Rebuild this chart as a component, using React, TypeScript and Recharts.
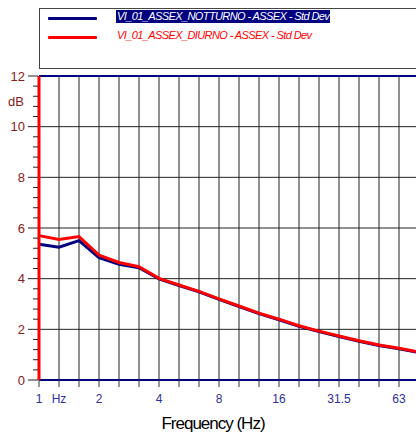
import React from "react";
import {
  LineChart,
  Line,
  XAxis,
  YAxis,
  CartesianGrid,
  ReferenceLine,
} from "recharts";

// third-octave bands, Hz
const bands = ["1", "1.25", "1.6", "2", "2.5", "3.15", "4", "5", "6.3", "8", "10", "12.5", "16", "20", "25", "31.5", "40", "50", "63", "80"];

// standard deviation per band, dB
const notturno = [5.36, 5.24, 5.5, 4.83, 4.57, 4.43, 3.99, 3.73, 3.48, 3.18, 2.9, 2.62, 2.38, 2.12, 1.91, 1.72, 1.53, 1.36, 1.23, 1.08];
const diurno = [5.7, 5.55, 5.66, 4.93, 4.64, 4.47, 4.01, 3.75, 3.5, 3.2, 2.92, 2.64, 2.4, 2.14, 1.93, 1.74, 1.55, 1.38, 1.25, 1.1];

const xLabels: Record<string, string> = {
  "1": "1",
  "1.25": "Hz",
  "2": "2",
  "4": "4",
  "8": "8",
  "16": "16",
  "31.5": "31.5",
  "63": "63",
};

const majorY = [0, 2, 4, 6, 8, 10, 12];
const allYTicks = Array.from({ length: 31 }, (_, i) => Math.round(i * 4) / 10);

const NAVY = "#000080";
const RED = "#ff0000";
const AXIS_RED = "#8b2020";
const TICK_BLUE = "#2e2e9e";

const data = bands.map((f, i) => ({ f, notturno: notturno[i], diurno: diurno[i] }));

// y ticks: long mark + label on the even values, short mark in between
const YTick = (props: any) => {
  const { x, y, payload } = props;
  const major = majorY.includes(payload.value);
  return (
    <g>
      <line x1={x - (major ? 11 : 6)} x2={x - 1} y1={y} y2={y} stroke="#222" strokeWidth={1} />
      {major && (
        <text x={x - 14} y={y} dy="0.36em" textAnchor="end" fill={AXIS_RED} fontSize={13}>
          {payload.value}
        </text>
      )}
    </g>
  );
};

export default function App() {
  return (
    <div
      style={{
        position: "fixed",
        left: 0,
        top: 0,
        width: 416,
        height: 434,
        overflow: "hidden",
        background: "#fff",
        fontFamily: "'Liberation Sans', Arial, sans-serif",
      }}
    >
      {/* legend box */}
      <div
        style={{
          position: "absolute",
          left: 39,
          top: 8,
          width: 400,
          height: 59,
          border: "1px solid #444",
        }}
      >
        <div style={{ position: "absolute", left: 8, top: 8, width: 49, height: 3, background: NAVY, borderRadius: 1 }} />
        <div style={{ position: "absolute", left: 8, top: 27, width: 49, height: 3, background: RED, borderRadius: 1 }} />
        <div
          style={{
            position: "absolute",
            left: 76,
            top: 1,
            padding: "0 1px",
            background: NAVY,
            color: "#fff",
            fontSize: 11,
            fontStyle: "italic",
            letterSpacing: -0.6,
            lineHeight: "13px",
          }}
        >
          VI_01_ASSEX_NOTTURNO - ASSEX - Std Dev
        </div>
        <div
          style={{
            position: "absolute",
            left: 77,
            top: 20,
            color: RED,
            fontSize: 11,
            fontStyle: "italic",
            letterSpacing: -0.6,
            lineHeight: "13px",
          }}
        >
          VI_01_ASSEX_DIURNO - ASSEX - Std Dev
        </div>
      </div>

      <div style={{ position: "absolute", left: 8, top: 94, color: AXIS_RED, fontSize: 13 }}>dB</div>

      <LineChart width={432} height={434} data={data} margin={{ top: 76, right: 13, left: 0, bottom: 24 }}>
        <CartesianGrid stroke="#222" strokeWidth={1} horizontalValues={[2, 4, 6, 8, 10]} />
        <XAxis
          dataKey="f"
          interval={0}
          height={30}
          tickSize={7}
          tickMargin={7}
          tickLine={{ stroke: "#333" }}
          axisLine={{ stroke: NAVY, strokeWidth: 2 }}
          tick={{ fill: TICK_BLUE, fontSize: 12 }}
          tickFormatter={(v: string) => xLabels[v] ?? ""}
        />
        <YAxis
          width={39}
          domain={[0, 12]}
          ticks={allYTicks}
          interval={0}
          tickSize={0}
          tickMargin={0}
          tickLine={false}
          axisLine={{ stroke: RED, strokeWidth: 3 }}
          tick={<YTick />}
        />
        <ReferenceLine y={12} stroke={NAVY} strokeWidth={2} />
        <Line type="linear" dataKey="notturno" stroke={NAVY} strokeWidth={3} dot={false} isAnimationActive={false} />
        <Line type="linear" dataKey="diurno" stroke={RED} strokeWidth={3} dot={false} isAnimationActive={false} />
      </LineChart>

      <div
        style={{
          position: "absolute",
          left: 0,
          width: 426,
          top: 414,
          textAlign: "center",
          fontSize: 17,
          letterSpacing: -1,
          color: "#000",
        }}
      >
        Frequency (Hz)
      </div>
    </div>
  );
}
